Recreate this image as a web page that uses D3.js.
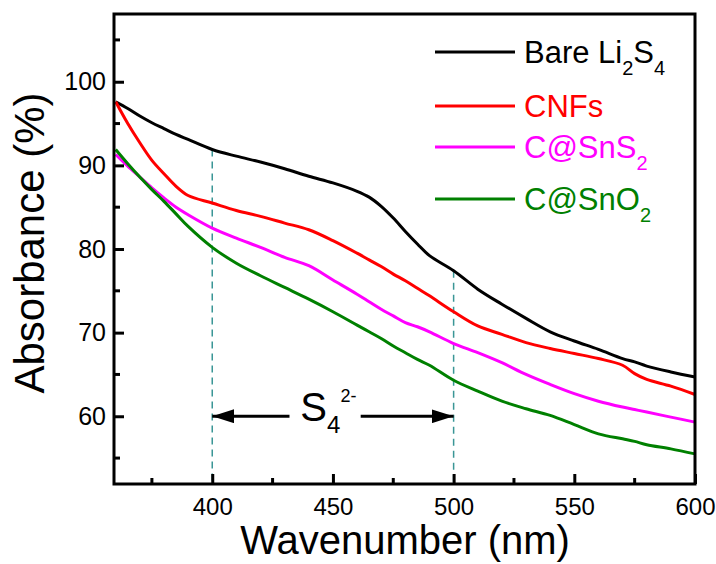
<!DOCTYPE html>
<html>
<head>
<meta charset="utf-8">
<script src="https://cdn.jsdelivr.net/npm/d3@7"></script>
<style>
  body { margin: 0; background: #fff; }
  text { font-family: "Liberation Sans", Arial, sans-serif; }
</style>
</head>
<body>
<div class="graph-center"></div>
<script>
// data
let wavelength = [360,365,370,375,380,385,390,400,410,420,430,440,450,460,465,470,475,480,485,490,500,510,520,530,540,550,560,570,575,580,590,600]
let bareLi2S4 = [97.6,96.8,95.9,95.1,94.4,93.7,93.1,91.9,91.1,90.4,89.6,88.7,87.9,86.9,86.2,85.1,83.7,82.1,80.6,79.2,77.4,75.2,73.4,71.7,70.1,69.0,68.0,66.9,66.5,66.0,65.3,64.7]
let cnfs = [97.6,95.0,92.7,90.6,89.0,87.5,86.4,85.5,84.6,83.9,83.1,82.3,81.0,79.5,78.7,77.9,77.0,76.2,75.3,74.4,72.5,70.8,69.8,68.8,68.1,67.5,66.9,66.1,65.1,64.4,63.6,62.6]
let cSnS2 = [91.3,89.9,88.6,87.3,86.1,85.0,84.1,82.5,81.3,80.2,79.0,78.0,76.3,74.6,73.7,72.8,72.0,71.2,70.7,70.1,68.7,67.6,66.4,65.0,63.8,62.7,61.8,61.1,60.8,60.5,59.9,59.3]
let cSnO2 = [91.9,90.2,88.6,87.1,85.7,84.2,82.7,80.2,78.3,76.8,75.4,74.0,72.5,70.9,70.1,69.3,68.4,67.6,66.8,66.1,64.3,63.0,61.8,60.9,60.1,59.0,57.9,57.3,57.0,56.6,56.1,55.5]

let xTicks = [400,450,500,550,600]
let xMinor = [375,425,475,525,575]
let yTicks = [60,70,80,90,100]
let yMinor = [55,65,75,85,95,105]

let series = [
  {name: 'Bare Li', sub: ['2', 'S', '4'], color: '#000000', values: bareLi2S4},
  {name: 'CNFs', sub: [], color: '#ff0000', values: cnfs},
  {name: 'C@SnS', sub: ['2'], color: '#ff00ff', values: cSnS2},
  {name: 'C@SnO', sub: ['2'], color: '#008000', values: cSnO2}
]
let markers = [400, 500]   // dashed guide lines
let arrowLevel = 60

let svgWidth = 716
let svgHeight = 564
let margin = {left: 114, right: 21, top: 14, bottom: 80}
let width = svgWidth - margin.left - margin.right
let height = svgHeight - margin.top - margin.bottom

let root = d3.select('.graph-center')
    .append('svg')
    .attr('width', svgWidth)
    .attr('height', svgHeight)

let svg = root.append('g')
    .attr('transform', `translate(${margin.left},${margin.top})`)

let xScale = d3.scaleLinear().domain([359.3, 600]).range([0, width])
let yScale = d3.scaleLinear().domain([51.9, 108.1]).range([height, 0])

// dashed guides
markers.forEach(m => {
  let i = wavelength.indexOf(m)
  svg.append('line')
    .attr('x1', xScale(m)).attr('x2', xScale(m))
    .attr('y1', yScale(bareLi2S4[i])).attr('y2', height)
    .attr('stroke', '#3a9696')
    .attr('stroke-width', 1.5)
    .attr('stroke-dasharray', '7,5')
})

// curves
let line = d3.line()
    .x((d, i) => xScale(wavelength[i]))
    .y(d => yScale(d))
    .curve(d3.curveCatmullRom)

svg.selectAll('.curve')
  .data(series)
  .join('path')
  .attr('class', 'curve')
  .attr('d', d => line(d.values))
  .attr('fill', 'none')
  .attr('stroke', d => d.color)
  .attr('stroke-width', 3)

// arrows
let defs = root.append('defs')
defs.append('marker')
    .attr('id', 'head')
    .attr('viewBox', '0 0 22 14')
    .attr('refX', 22).attr('refY', 7)
    .attr('markerWidth', 22).attr('markerHeight', 14)
    .attr('markerUnits', 'userSpaceOnUse')
    .attr('orient', 'auto')
  .append('path')
    .attr('d', 'M0,0 L22,7 L0,14 Z')
    .attr('fill', '#000')

svg.append('line')
    .attr('x1', xScale(432)).attr('x2', xScale(400))
    .attr('y1', yScale(arrowLevel)).attr('y2', yScale(arrowLevel))
    .attr('stroke', '#000').attr('stroke-width', 3)
    .attr('marker-end', 'url(#head)')
svg.append('line')
    .attr('x1', xScale(461.5)).attr('x2', xScale(500))
    .attr('y1', yScale(arrowLevel)).attr('y2', yScale(arrowLevel))
    .attr('stroke', '#000').attr('stroke-width', 3)
    .attr('marker-end', 'url(#head)')

let sLabel = svg.append('text')
    .attr('x', xScale(436.5))
    .attr('y', yScale(arrowLevel) + 5)
    .attr('font-size', 40)
sLabel.append('tspan').text('S')
sLabel.append('tspan').attr('font-size', 24).attr('dy', 12).text('4')
sLabel.append('tspan').attr('font-size', 18).attr('dx', 0).attr('dy', -31).text('2-')

// axes
let xAxis = d3.axisBottom(xScale).tickValues(xTicks).tickSize(-10).tickPadding(14)
let yAxis = d3.axisLeft(yScale).tickValues(yTicks).tickSize(-10).tickPadding(8)

let gx = svg.append('g').attr('transform', `translate(0,${height})`).call(xAxis)
let gy = svg.append('g').call(yAxis)

gx.selectAll('line').attr('stroke', '#000').attr('stroke-width', 3)
gy.selectAll('line').attr('stroke', '#000').attr('stroke-width', 3)
gx.selectAll('text').attr('font-size', 24).attr('font-family', '"Liberation Sans", Arial').attr('fill', '#000').attr('dy', '0.72em')
gy.selectAll('text').attr('font-size', 25).attr('font-family', '"Liberation Sans", Arial').attr('fill', '#000')
gx.select('.domain').remove()
gy.select('.domain').remove()

svg.selectAll('.minor-x')
  .data(xMinor).join('line')
  .attr('x1', d => xScale(d)).attr('x2', d => xScale(d))
  .attr('y1', height).attr('y2', height - 6)
  .attr('stroke', '#000').attr('stroke-width', 3)
svg.selectAll('.minor-y')
  .data(yMinor).join('line')
  .attr('y1', d => yScale(d)).attr('y2', d => yScale(d))
  .attr('x1', 0).attr('x2', 6)
  .attr('stroke', '#000').attr('stroke-width', 3)

// frame
svg.append('rect')
    .attr('width', width).attr('height', height)
    .attr('fill', 'none').attr('stroke', '#000').attr('stroke-width', 3)

// legend
let legend = svg.selectAll('.legend')
  .data(series).join('g')
  .attr('class', 'legend')
  .attr('transform', (d, i) => `translate(${435 - margin.left},${[52, 106, 147, 199][i] - margin.top})`)

legend.append('line')
  .attr('x1', 0).attr('x2', 80)
  .attr('stroke', d => d.color).attr('stroke-width', 3)

legend.append('text')
  .attr('x', 89).attr('y', 11)
  .attr('font-size', 31)
  .attr('fill', d => d.color)
  .each(function(d) {
    let t = d3.select(this)
    t.append('tspan').text(d.name)
    d.sub.forEach(s => {
      if (s === 'S') t.append('tspan').attr('font-size', 31).attr('dy', -12).text(s)
      else t.append('tspan').attr('font-size', 20).attr('dy', 12).text(s)
    })
  })

// axis titles
root.append('text')
    .attr('x', 405).attr('y', 554)
    .attr('text-anchor', 'middle')
    .attr('font-size', 40)
    .text('Wavenumber (nm)')

root.append('text')
    .attr('transform', 'translate(44,243) rotate(-90)')
    .attr('text-anchor', 'middle')
    .attr('font-size', 42)
    .text('Absorbance (%)')
</script>
</body>
</html>
